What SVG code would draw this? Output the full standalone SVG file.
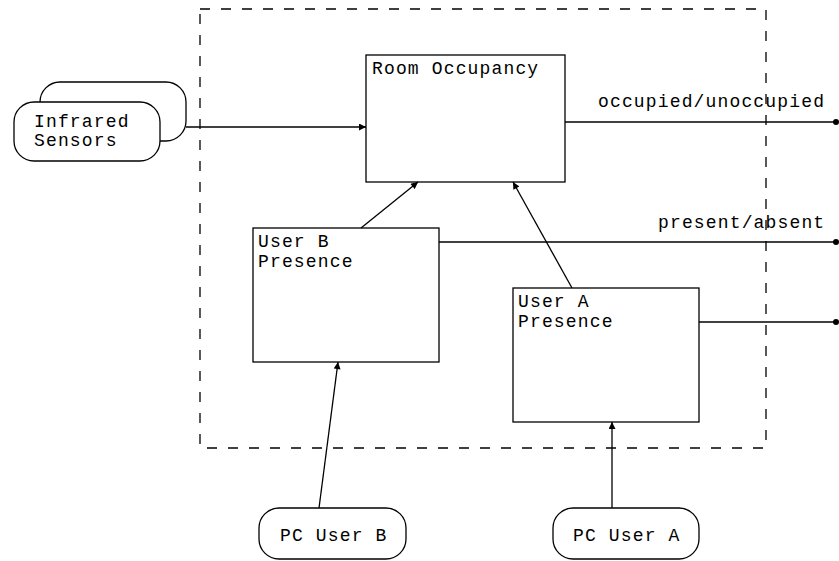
<svg xmlns="http://www.w3.org/2000/svg" width="839" height="561" viewBox="0 0 839 561">
  <defs>
    <marker id="arrow" viewBox="0 0 10 10" refX="10" refY="5" markerWidth="9" markerHeight="7" markerUnits="userSpaceOnUse" orient="auto">
      <path d="M0,0 L10,5 L0,10 z" fill="#000"/>
    </marker>
    <marker id="dot" viewBox="0 0 6 6" refX="3" refY="3" markerWidth="6" markerHeight="6" markerUnits="userSpaceOnUse">
      <circle cx="3" cy="3" r="3" fill="#000"/>
    </marker>
  </defs>
  <style>
    .box { fill: #fff; stroke: #000; stroke-width: 1.3; }
    .boundary { fill: none; stroke: #000; stroke-width: 1.3; stroke-dasharray: 10 11; }
    .label { font-family: "Liberation Mono", "Courier New", monospace; font-size: 18px; letter-spacing: 1.15px; fill: #000; }
    .edge { fill: none; stroke: #000; stroke-width: 1.3; }
  </style>
  <rect width="839" height="561" fill="#fff"/>

  <!-- system boundary -->
  <rect class="boundary" x="200" y="9" width="566" height="439"/>

  <g id="infrared-sensors">
    <rect class="box" x="40" y="82" width="146" height="59" rx="20" ry="20"/>
    <rect class="box" x="14" y="102" width="146" height="59" rx="20" ry="20"/>
    <text class="label" x="34" y="127">Infrared</text>
    <text class="label" x="34" y="146">Sensors</text>
  </g>

  <g id="room-occupancy">
    <rect class="box" x="366" y="55" width="199" height="127"/>
    <text class="label" x="372" y="74">Room Occupancy</text>
  </g>

  <g id="user-b-presence">
    <rect class="box" x="253" y="228" width="186" height="134"/>
    <text class="label" x="258" y="247">User B</text>
    <text class="label" x="258" y="267">Presence</text>
  </g>

  <g id="user-a-presence">
    <rect class="box" x="513" y="288" width="186" height="134"/>
    <text class="label" x="518" y="307">User A</text>
    <text class="label" x="518" y="327">Presence</text>
  </g>

  <g id="pc-user-b">
    <rect class="box" x="259" y="508" width="147" height="51" rx="20" ry="20"/>
    <text class="label" x="280" y="541">PC User B</text>
  </g>

  <g id="pc-user-a">
    <rect class="box" x="553" y="508" width="146" height="51" rx="20" ry="20"/>
    <text class="label" x="573" y="541">PC User A</text>
  </g>

  <g id="output-labels">
    <text class="label" x="598" y="107">occupied/unoccupied</text>
    <text class="label" x="658" y="228">present/absent</text>
  </g>

  <g id="connectors">
    <line class="edge" x1="186" y1="127" x2="366" y2="127" marker-end="url(#arrow)"/>
    <line class="edge" x1="361" y1="228" x2="418" y2="182" marker-end="url(#arrow)"/>
    <line class="edge" x1="572" y1="288" x2="513" y2="182" marker-end="url(#arrow)"/>
    <line class="edge" x1="319" y1="508" x2="338" y2="362" marker-end="url(#arrow)"/>
    <line class="edge" x1="612" y1="508" x2="612" y2="422" marker-end="url(#arrow)"/>
    <line class="edge" x1="565" y1="122" x2="836" y2="122" marker-end="url(#dot)"/>
    <line class="edge" x1="439" y1="242" x2="836" y2="242" marker-end="url(#dot)"/>
    <line class="edge" x1="699" y1="322" x2="836" y2="322" marker-end="url(#dot)"/>
  </g>
</svg>
